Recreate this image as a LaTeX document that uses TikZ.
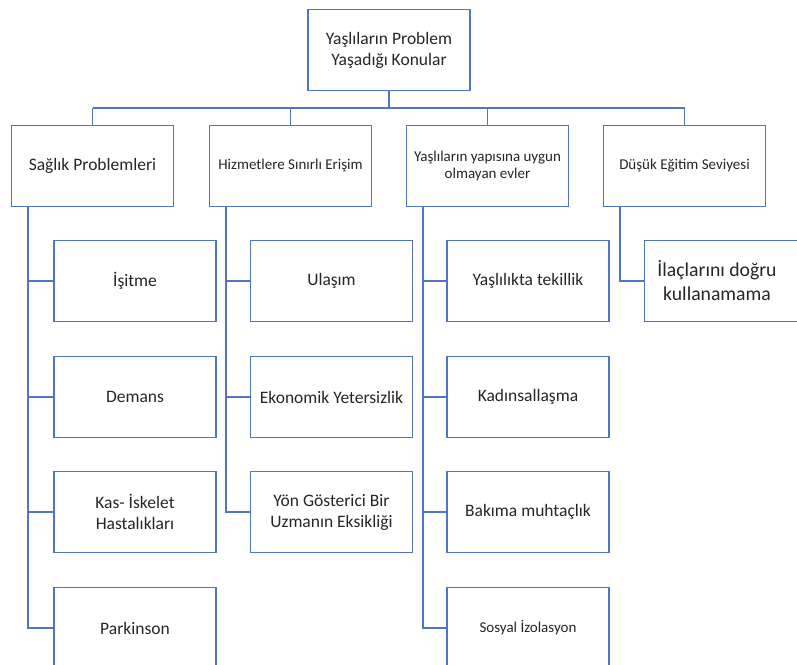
\documentclass[tikz,border=0pt]{standalone}
\usepackage{fontspec}
\setmainfont{Carlito}
\definecolor{linkblue}{RGB}{79,117,196}
\definecolor{txt}{RGB}{38,38,38}
\begin{document}
\begin{tikzpicture}[x=1pt,y=-1pt,
  box/.style={draw=linkblue,line width=1.8pt,fill=white,rectangle,inner sep=2pt,
    minimum width=162pt,minimum height=81pt,align=center,text=txt,
    font=\fontsize{17.5}{21}\selectfont},
  small/.style={font=\fontsize{15}{17.5}\selectfont},
  big/.style={font=\fontsize{19.7}{24}\selectfont},
  link/.style={draw=linkblue,line width=1.8pt},
  plain/.style={text=txt,align=center,inner sep=0pt}]
\useasboundingbox (0,0) rectangle (797,664);
\clip (0,0) rectangle (797,664);
\fill[white] (0,0) rectangle (797,664);

% top
\node[box] (top) at (389,50) {Yaşlıların Problem\\Yaşadığı Konular};

% level 1
\node[box] (s1) at (92.5,166) {Sağlık Problemleri};
\node[box,small] (s2) at (290.5,166) {Hizmetlere Sınırlı Erişim};
\node[box,small] (s3) at (487.5,166) {Yaşlıların yapısına uygun\\olmayan evler};
\node[box,small] (s4) at (684.5,166) {Düşük Eğitim Seviyesi};

\coordinate (bus) at (389,108);
\draw[link] (top.south) -- (top.south |- bus);
\draw[link] (s1.north |- bus) -- (s4.north |- bus);
\foreach \n in {s1,s2,s3,s4} \draw[link] (\n.north) -- (\n.north |- bus);

% column 1
\node[box] (c11) at (135,281) {İşitme};
\node[box] (c12) at (135,397) {Demans};
\node[box] (c13) at (135,512) {Kas- İskelet\\Hastalıkları};
\node[box] (c14) at (135,628) {Parkinson};

% column 2
\node[box] (c21) at (331.5,281) {Ulaşım};
\node[box] (c22) at (331.5,397) {Ekonomik Yetersizlik};
\node[box] (c23) at (331.5,512) {Yön Gösterici Bir\\Uzmanın Eksikliği};

% column 3
\node[box] (c31) at (528,281) {Yaşlılıkta tekillik};
\node[box] (c32) at (528,397) {Kadınsallaşma};
\node[box] (c33) at (528,512) {Bakıma muhtaçlık};
\node[box,small] (c34) at (528,628) {Sosyal İzolasyon};

% column 4
\node[box] (c41) at (725.5,281) {};
\node[plain,big] (t41) at (717,281) {İlaçlarını doğru\\kullanamama};

% connectors
\draw[link] ([xshift=17pt]s1.south west) |- (c14.west);
\foreach \n in {c11,c12,c13} \draw[link] ([xshift=17pt]s1.south west |- \n.west) -- (\n.west);
\draw[link] ([xshift=17pt]s2.south west) |- (c23.west);
\foreach \n in {c21,c22} \draw[link] ([xshift=17pt]s2.south west |- \n.west) -- (\n.west);
\draw[link] ([xshift=17pt]s3.south west) |- (c34.west);
\foreach \n in {c31,c32,c33} \draw[link] ([xshift=17pt]s3.south west |- \n.west) -- (\n.west);
\draw[link] ([xshift=17pt]s4.south west) |- (c41.west);
\end{tikzpicture}
\end{document}
